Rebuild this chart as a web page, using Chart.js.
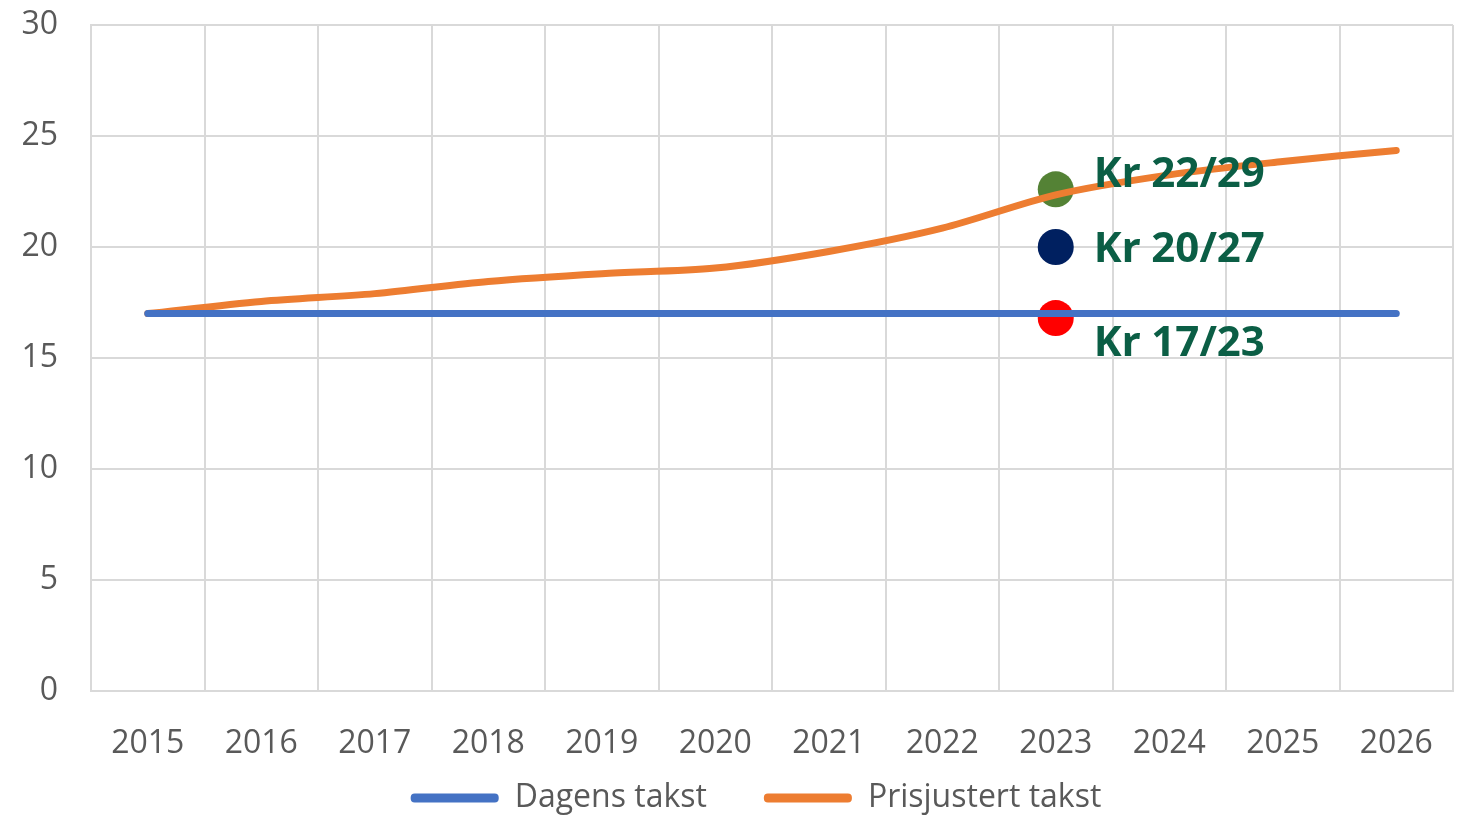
<!DOCTYPE html>
<html lang="no">
  <head>
    <meta charset="UTF-8" />
    <title>Takst</title>
    <script src="https://cdn.jsdelivr.net/npm/chart.js"></script>
    <style>
      body { margin: 0; background: #fff; }
    </style>
  </head>
  <body>
    <canvas id="chart" width="1463" height="816"></canvas>
    <script>
      const years = ["2015", "2016", "2017", "2018", "2019", "2020", "2021", "2022", "2023", "2024", "2025", "2026"];
      const dagensTakst = [17, 17, 17, 17, 17, 17, 17, 17, 17, 17, 17, 17];
      const prisjustertTakst = [17, 17.55, 17.9, 18.45, 18.8, 19.05, 19.8, 20.85, 22.35, 23.25, 23.85, 24.35];
      const markerYear = "2023";
      const markerValues = [22.6, 20, 16.8];
      const markerLabels = ["Kr 22/29", "Kr 20/27", "Kr 17/23"];
      const markerColors = ["#548235", "#002060", "#ff0000"];
      const yTicks = [0, 5, 10, 15, 20, 25, 30];

      // label offsets relative to each dot (px)
      const labelShift = [-14, 3, 26];

      const labelPlugin = {
        id: "markerLabels",
        afterDatasetsDraw(chart) {
          const ctx = chart.ctx;
          ctx.save();
          ctx.font = "bold 42px 'Noto Sans'";
          ctx.fillStyle = "#0b5e45";
          ctx.textBaseline = "middle";
          markerLabels.forEach((txt, i) => {
            const pt = chart.getDatasetMeta(2 + i).data[0];
            ctx.fillText(txt, pt.x + 38, pt.y + labelShift[i]);
          });
          ctx.restore();
        },
      };

      const markerSets = markerValues.map((v, i) => ({
        label: markerLabels[i],
        data: [{ x: markerYear, y: v }],
        showLine: false,
        pointRadius: 18,
        pointHoverRadius: 18,
        pointBackgroundColor: markerColors[i],
        pointBorderWidth: 0,
        isMarker: true,
      }));

      const tickFont = { family: "'Open Sans'", size: 32 };

      new Chart(document.getElementById("chart"), {
        type: "line",
        data: {
          labels: years,
          datasets: [
            {
              label: "Dagens takst",
              data: dagensTakst,
              borderColor: "#4472c4",
              backgroundColor: "#4472c4",
              borderWidth: 7,
              pointRadius: 0,
              borderCapStyle: "round",
            },
            {
              label: "Prisjustert takst",
              data: prisjustertTakst,
              borderColor: "#ed7d31",
              backgroundColor: "#ed7d31",
              borderWidth: 7,
              pointRadius: 0,
              tension: 0.3,
              borderCapStyle: "round",
            },
            ...markerSets,
          ],
        },
        options: {
          responsive: false,
          animation: false,
          layout: { autoPadding: false, padding: { left: 20, right: 10, top: 25, bottom: -8 } },
          scales: {
            x: {
              offset: true,
              grid: { offset: true, color: "#d9d9d9", lineWidth: 2, drawTicks: false },
              border: { color: "#d9d9d9", width: 2 },
              ticks: { padding: 34, color: "#595959", font: tickFont },
              afterFit: (axis) => { axis.paddingLeft = 0; axis.paddingRight = 0; axis.height = 66; },
            },
            y: {
              min: 0,
              max: 30,
              afterBuildTicks: (axis) => { axis.ticks = yTicks.map((v) => ({ value: v })); },
              grid: { color: "#d9d9d9", lineWidth: 2, drawTicks: false },
              border: { color: "#d9d9d9", width: 2 },
              ticks: { padding: 33, color: "#595959", font: tickFont },
              afterFit: (axis) => { axis.paddingTop = 0; axis.paddingBottom = 0; axis.width = 71; },
            },
          },
          plugins: {
            tooltip: { enabled: false },
            legend: {
              position: "bottom",
              fullSize: false,
              labels: {
                color: "#595959",
                font: tickFont,
                boxWidth: 88,
                boxHeight: 9,
                useBorderRadius: true,
                borderRadius: 4,
                padding: 25,
                filter: (item, data) => !data.datasets[item.datasetIndex].isMarker,
                generateLabels: (chart) =>
                  Chart.defaults.plugins.legend.labels
                    .generateLabels(chart)
                    .map((l) => ({ ...l, lineWidth: 0, text: l.text + "\u2003" })),
              },
            },
          },
        },
        plugins: [labelPlugin],
      });
    </script>
  </body>
</html>
